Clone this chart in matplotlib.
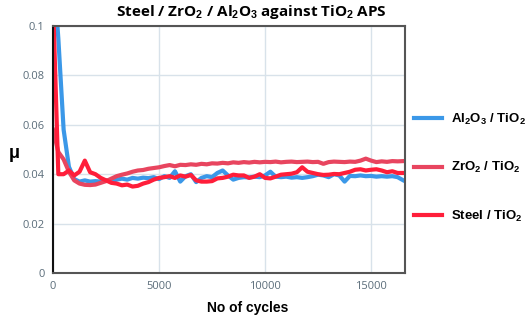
import matplotlib
matplotlib.use("Agg")
import matplotlib.pyplot as plt
import numpy as np

# cycles (one reading every 250 cycles)
cycles = np.arange(0, 16750, 250)

al2o3 = [0.125, 0.095, 0.058, 0.043, 0.038, 0.037, 0.0375, 0.037, 0.0372, 0.037,
         0.0375, 0.0372, 0.0378, 0.0382, 0.0378, 0.0385, 0.0382, 0.0386, 0.0384, 0.0388,
         0.0380, 0.0392, 0.0385, 0.0412, 0.0370, 0.0392, 0.0400, 0.0368, 0.0385, 0.0392,
         0.0388, 0.0405, 0.0415, 0.0395, 0.0378, 0.0385, 0.0388, 0.0387, 0.0390, 0.0388,
         0.0395, 0.0410, 0.0390, 0.0388, 0.0390, 0.0386, 0.0388, 0.0385, 0.0388, 0.0392,
         0.0398, 0.0395, 0.0388, 0.0400, 0.0395, 0.0370, 0.0393, 0.0392, 0.0395, 0.0392,
         0.0393, 0.0390, 0.0392, 0.0390, 0.0392, 0.0388, 0.0376]

zro2 = [0.058, 0.049, 0.046, 0.041, 0.0375, 0.0362, 0.0357, 0.0356, 0.0358, 0.0365,
        0.0372, 0.0382, 0.0392, 0.0398, 0.0403, 0.0410, 0.0415, 0.0417, 0.0422, 0.0425,
        0.0428, 0.0433, 0.0437, 0.0432, 0.0438, 0.0437, 0.0440, 0.0438, 0.0442, 0.0440,
        0.0444, 0.0443, 0.0446, 0.0444, 0.0448, 0.0446, 0.0449, 0.0447, 0.0450, 0.0448,
        0.0450, 0.0449, 0.0451, 0.0448, 0.0450, 0.0451, 0.0449, 0.0450, 0.0451, 0.0449,
        0.0450, 0.0442, 0.0449, 0.0451, 0.0450, 0.0449, 0.0451, 0.0450, 0.0455, 0.0463,
        0.0455, 0.0449, 0.0452, 0.0450, 0.0453, 0.0452, 0.0453]

steel = [0.11, 0.040, 0.040, 0.0415, 0.0395, 0.041, 0.0455, 0.0408, 0.0400, 0.0385,
         0.0375, 0.0365, 0.0362, 0.0355, 0.0358, 0.0350, 0.0353, 0.0362, 0.0368, 0.0378,
         0.0385, 0.0388, 0.0392, 0.0385, 0.0395, 0.0390, 0.0397, 0.0375, 0.0370, 0.0370,
         0.0372, 0.0383, 0.0385, 0.0390, 0.0398, 0.0395, 0.0395, 0.0385, 0.0390, 0.0400,
         0.0385, 0.0383, 0.0390, 0.0398, 0.0400, 0.0402, 0.0408, 0.0428, 0.0410, 0.0405,
         0.0400, 0.0397, 0.0398, 0.0401, 0.0400, 0.0405, 0.0410, 0.0418, 0.0420, 0.0415,
         0.0418, 0.0420, 0.0415, 0.0408, 0.0412, 0.0405, 0.0405]

labels = ["Al$_2$O$_3$ / TiO$_2$", "ZrO$_2$ / TiO$_2$", "Steel / TiO$_2$"]
colors = ["#3b98e8", "#e8455f", "#ff1e3a"]

plt.rcParams["font.family"] = ["Open Sans", "DejaVu Sans"]
plt.rcParams["mathtext.fontset"] = "custom"
plt.rcParams["mathtext.rm"] = "Liberation Sans:bold"
plt.rcParams["mathtext.bf"] = "Liberation Sans:bold"
plt.rcParams["mathtext.default"] = "bf"

fig = plt.figure(figsize=(5.26, 3.19), dpi=100)
ax = fig.add_axes([0.1008, 0.1442, 0.6692, 0.7743])

for y, lab, c in zip([al2o3, zro2, steel], labels, colors):
    ax.plot(cycles, y, color=c, lw=3, label=lab, solid_joinstyle="round")

ax.set_xlim(0, 16600)
ax.set_ylim(0, 0.1)
ax.set_xticks([0, 5000, 10000, 15000])
ax.set_yticks([0, 0.02, 0.04, 0.06, 0.08, 0.1])
ax.set_yticklabels(["0", "0.02", "0.04", "0.06", "0.08", "0.1"])
ax.tick_params(length=0, labelsize=8, colors="#5b6d7a", pad=6)
ax.grid(color="#d8e2ea", lw=1)
ax.set_axisbelow(True)
for s in ["top", "right", "bottom"]:
    ax.spines[s].set_color("#555555")
    ax.spines[s].set_linewidth(1.5)
ax.spines["left"].set_color("#111111")
ax.spines["left"].set_linewidth(1.5)

fig.text(0.47, 0.035, "No of cycles", fontsize=10, fontweight="bold",
         family="Liberation Sans", ha="center", va="center")
fig.text(0.027, 0.52, "μ", fontsize=13, fontweight="bold", family="Liberation Sans",
         ha="center", va="center")

fig.text(0.477, 0.962, "Steel / ZrO$_2$ / Al$_2$O$_3$ against TiO$_2$ APS",
         fontsize=11, fontweight="bold", ha="center", va="center")

leg = ax.legend(loc="upper left", bbox_to_anchor=(1.01, 0.675), frameon=False,
                handlelength=2.12, handletextpad=0.68, labelspacing=2.55,
                borderaxespad=0.0,
                prop={"family": "Liberation Sans", "weight": "bold", "size": 9.5})

fig.savefig("out.png", dpi=100)
